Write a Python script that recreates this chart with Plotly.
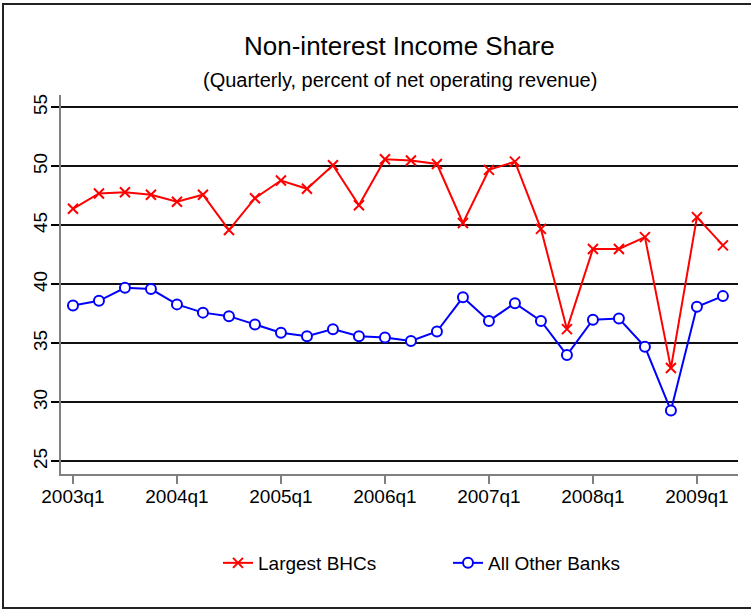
import plotly.graph_objects as go

quarters = ["2003q1", "2003q2", "2003q3", "2003q4",
            "2004q1", "2004q2", "2004q3", "2004q4",
            "2005q1", "2005q2", "2005q3", "2005q4",
            "2006q1", "2006q2", "2006q3", "2006q4",
            "2007q1", "2007q2", "2007q3", "2007q4",
            "2008q1", "2008q2", "2008q3", "2008q4",
            "2009q1", "2009q2"]
largest_bhcs = [46.4, 47.7, 47.8, 47.6, 47.0, 47.6, 44.6, 47.3,
                48.8, 48.1, 50.1, 46.7, 50.6, 50.5, 50.2, 45.2,
                49.7, 50.4, 44.7, 36.2, 43.0, 43.0, 44.0, 32.9,
                45.7, 43.3]
all_other_banks = [38.2, 38.6, 39.7, 39.6, 38.3, 37.6, 37.3, 36.6,
                   35.9, 35.6, 36.2, 35.6, 35.5, 35.2, 36.0, 38.9,
                   36.9, 38.4, 36.9, 34.0, 37.0, 37.1, 34.7, 29.3,
                   38.1, 39.0]
tick_labels = ["2003q1", "2004q1", "2005q1", "2006q1", "2007q1", "2008q1", "2009q1"]
y_ticks = [25, 30, 35, 40, 45, 50, 55]

FONT = "Liberation Sans, Arial, Helvetica, sans-serif"
idx = list(range(len(quarters)))
tick_pos = [quarters.index(t) for t in tick_labels]

fig = go.Figure()
fig.add_trace(go.Scatter(
    x=idx, y=largest_bhcs, name="Largest BHCs", mode="lines+markers",
    line=dict(color="#ff0000", width=2),
    marker=dict(symbol="x-thin", size=10, color="#ff0000",
                line=dict(color="#ff0000", width=2)),
))
fig.add_trace(go.Scatter(
    x=idx, y=all_other_banks, name="All Other Banks", mode="lines+markers",
    line=dict(color="#0000ff", width=2),
    marker=dict(symbol="circle", size=10, color="white",
                line=dict(color="#0000ff", width=2)),
))

W, H = 751, 611
ml, mr, mt, mb = 61, 13, 95, 137
pw, ph = W - ml - mr, H - mt - mb


def px_x(p):
    return (p - ml) / pw


def px_y(p):
    return (H - mb - p) / ph


fig.update_layout(
    width=W, height=H,
    margin=dict(l=ml, r=mr, t=mt, b=mb, pad=0, autoexpand=False),
    paper_bgcolor="white", plot_bgcolor="white",
    font=dict(family=FONT, color="black", size=19),
    showlegend=True,
    legend=dict(orientation="h", x=px_x(218), xanchor="left",
                y=px_y(563), yanchor="middle", entrywidth=185,
                entrywidthmode="pixels",
                font=dict(size=19, family=FONT),
                bgcolor="rgba(0,0,0,0)"),
    xaxis=dict(range=[-0.46, 25.58], tickmode="array", tickvals=tick_pos,
               ticktext=tick_labels, ticks="outside", ticklen=8,
               tickcolor="#808080", tickwidth=1.5,
               showline=True, linecolor="#808080", linewidth=2,
               showgrid=False, zeroline=False, ticklabelstandoff=-4,
               tickfont=dict(size=19, family=FONT)),
    yaxis=dict(range=[23.92, 56.05], tickmode="array", tickvals=y_ticks,
               ticks="outside", ticklen=8, tickcolor="black", tickwidth=1.5,
               showline=True, linecolor="#808080", linewidth=2,
               showgrid=True, gridcolor="#111111", gridwidth=2,
               zeroline=False, tickangle=-90, ticklabelstandoff=-4,
               tickfont=dict(size=19, family=FONT)),
    annotations=[
        dict(text="Non-interest Income Share", x=0.5, y=px_y(46),
             xref="paper", yref="paper", xanchor="center", yanchor="middle",
             showarrow=False, font=dict(size=26, family=FONT)),
        dict(text="(Quarterly, percent of net operating revenue)", x=0.5,
             y=px_y(80), xref="paper", yref="paper", xanchor="center",
             yanchor="middle", showarrow=False, font=dict(size=20, family=FONT)),
    ],
    shapes=[
        dict(type="rect", xref="paper", yref="paper",
             x0=px_x(3), x1=px_x(800), y0=px_y(608), y1=px_y(4),
             line=dict(color="#222222", width=2), layer="below"),
    ],
)

fig.write_html("out.html", config={"displayModeBar": False},
               post_script="document.body.style.margin='0px';"
                           "document.body.style.overflow='hidden';")
